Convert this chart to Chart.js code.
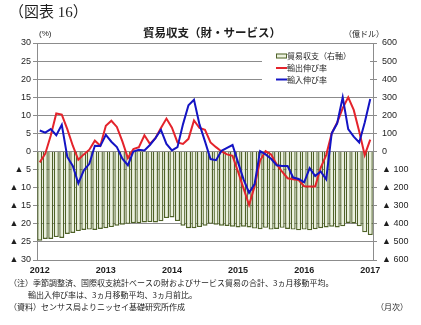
<!DOCTYPE html>
<html>
<head>
<meta charset="utf-8">
<script src="https://cdn.jsdelivr.net/npm/chart.js@4"></script>
<style>
  html, body { margin: 0; padding: 0; background: #fff; }
  canvas { display: block; }
</style>
</head>
<body>
<canvas id="c" width="421" height="325"></canvas>
<script>
// Monthly categories, Jan 2012 – Jan 2017
const categories = [
  '2012/1','2012/2','2012/3','2012/4','2012/5','2012/6','2012/7','2012/8','2012/9','2012/10','2012/11','2012/12',
  '2013/1','2013/2','2013/3','2013/4','2013/5','2013/6','2013/7','2013/8','2013/9','2013/10','2013/11','2013/12',
  '2014/1','2014/2','2014/3','2014/4','2014/5','2014/6','2014/7','2014/8','2014/9','2014/10','2014/11','2014/12',
  '2015/1','2015/2','2015/3','2015/4','2015/5','2015/6','2015/7','2015/8','2015/9','2015/10','2015/11','2015/12',
  '2016/1','2016/2','2016/3','2016/4','2016/5','2016/6','2016/7','2016/8','2016/9','2016/10','2016/11','2016/12',
  '2017/1'
];

// Trade balance, goods & services (100 million USD, right axis)
const tradeBalance = [
  -493,-484,-484,-473,-478,-456,-450,-440,-434,-432,
  -434,-428,-424,-418,-410,-405,-400,-396,-396,-392,
  -390,-392,-386,-368,-365,-385,-410,-424,-424,-418,
  -410,-400,-405,-410,-412,-416,-420,-416,-420,-426,
  -430,-422,-432,-428,-422,-428,-432,-436,-432,-436,
  -430,-424,-420,-416,-420,-414,-395,-398,-414,-447,
  -462
];

// Export growth rate (%, left axis)
const exportGrowth = [
  -3.0,-0.6,4.4,10.5,10.2,6.2,1.6,-2.3,-0.8,0.5,
  3.0,1.6,7.1,8.5,6.8,2.8,-1.8,0.7,1.2,4.5,
  2.1,3.7,6.5,9.1,6.6,2.5,2.1,3.5,8.6,6.5,
  6.0,2.5,1.2,0.0,-0.8,-1.2,-5.6,-10.2,-14.8,-9.7,
  -2.5,0.1,-0.8,-3.5,-5.6,-7.4,-7.7,-7.9,-9.6,-9.7,
  -9.7,-4.5,-1.0,5.0,8.0,12.0,15.0,11.5,5.5,-1.0,
  3.3
];

// Import growth rate (%, left axis)
const importGrowth = [
  5.8,5.2,6.2,4.5,7.4,-1.5,-4.0,-8.8,-5.2,-3.4,
  1.6,1.5,4.6,2.7,1.2,-2.0,-3.8,0.0,0.5,0.3,
  1.8,3.7,6.0,2.1,0.3,1.2,7.5,12.8,14.3,7.5,
  2.8,-2.1,-2.4,0.2,1.0,1.8,-3.0,-7.7,-11.4,-9.0,
  0.1,-0.8,-2.0,-3.8,-4.0,-4.0,-7.2,-7.6,-8.5,-4.6,
  -6.8,-5.5,-7.7,5.0,7.8,15.0,6.2,4.1,2.5,8.0,
  14.5
];

const seriesNames = ['貿易収支（右軸）', '輸出伸び率', '輸入伸び率'];
const figureLabel = '（図表 16）';
const chartTitle = '貿易収支（財・サービス）';
const leftUnit = '(%)';
const rightUnit = '（億ドル）';
const notes = [
  '（注）季節調整済、国際収支統計ベースの財およびサービス貿易の合計、3ヵ月移動平均。',
  '輸出入伸び率は、3ヵ月移動平均、3ヵ月前比。',
  '（資料）センサス局よりニッセイ基礎研究所作成'
];
const freqLabel = '（月次）';

const JP = "'Noto Sans CJK JP', sans-serif";
const NUM = "'Liberation Sans', 'Noto Sans CJK JP', sans-serif";
const GRID = '#8c8c8c';
const INK = '#1e1e1e';

Chart.defaults.font.family = NUM;
Chart.defaults.font.size = 9;
Chart.defaults.color = INK;

const tri = v => (v < 0 ? '▲ ' + (-v) : String(v));

// Titles, units, legend and notes drawn around the plot
const decor = {
  id: 'decor',
  afterDraw(chart) {
    const ctx = chart.ctx;
    ctx.save();
    ctx.fillStyle = INK;
    ctx.textBaseline = 'middle';

    ctx.textAlign = 'left';
    ctx.font = "15px 'Liberation Serif', 'Noto Sans CJK JP', serif";
    ctx.fillText(figureLabel, 9, 13);

    ctx.textAlign = 'center';
    ctx.font = "bold 11.5px " + JP;
    ctx.fillText(chartTitle, 212, 33);

    ctx.font = "8px " + NUM;
    ctx.textAlign = 'left';
    ctx.fillText(leftUnit, 39, 34);
    ctx.font = "8px " + JP;
    ctx.textAlign = 'right';
    ctx.fillText(rightUnit, 384, 34);

    // legend
    ctx.fillStyle = '#fff';
    ctx.fillRect(262, 46, 108, 42);
    const ds = chart.data.datasets;
    const rows = [56, 68, 79.5];
    ctx.font = "8px " + JP;
    ctx.textAlign = 'left';
    ds.forEach((d, i) => {
      const y = rows[i];
      if (d.type === 'bar') {
        ctx.fillStyle = d.backgroundColor;
        ctx.fillRect(276, y - 2.5, 11, 5);
        ctx.strokeStyle = d.borderColor;
        ctx.lineWidth = 1;
        ctx.strokeRect(276.5, y - 2, 10, 4);
      } else {
        ctx.strokeStyle = d.borderColor;
        ctx.lineWidth = 2;
        ctx.beginPath();
        ctx.moveTo(276, y);
        ctx.lineTo(287, y);
        ctx.stroke();
      }
      ctx.fillStyle = INK;
      ctx.fillText(d.label, 287, y);
    });

    // notes
    ctx.font = "8px " + JP;
    ctx.fillText(notes[0], 9, 283);
    ctx.fillText(notes[1], 28, 295);
    ctx.fillText(notes[2], 9, 307);
    ctx.textAlign = 'right';
    ctx.fillText(freqLabel, 408, 307);
    ctx.restore();
  }
};

new Chart(document.getElementById('c'), {
  type: 'bar',
  data: {
    labels: categories,
    datasets: [
      {
        type: 'bar',
        label: seriesNames[0],
        data: tradeBalance,
        yAxisID: 'y1',
        backgroundColor: '#ebf1de',
        borderColor: '#4f6228',
        borderWidth: 1.4,
        barPercentage: 0.92,
        categoryPercentage: 1.0,
        order: 3
      },
      {
        type: 'line',
        label: seriesNames[1],
        data: exportGrowth,
        yAxisID: 'y',
        borderColor: '#e4232b',
        borderWidth: 2,
        pointRadius: 0,
        tension: 0,
        order: 2
      },
      {
        type: 'line',
        label: seriesNames[2],
        data: importGrowth,
        yAxisID: 'y',
        borderColor: '#1414c4',
        borderWidth: 2,
        pointRadius: 0,
        tension: 0,
        order: 1
      }
    ]
  },
  options: {
    responsive: false,
    animation: false,
    devicePixelRatio: 1,
    layout: { padding: { top: 43, left: 0, right: 0, bottom: 0 } },
    plugins: {
      legend: { display: false },
      tooltip: { enabled: false },
      title: { display: false }
    },
    scales: {
      x: {
        offset: true,
        grid: { display: false, drawTicks: false },
        border: { display: false },
        ticks: {
          autoSkip: false,
          maxRotation: 0,
          padding: 5,
          font: { weight: 'bold', size: 9 },
          callback(v) {
            const l = this.getLabelForValue(v);
            return l.endsWith('/1') ? l.slice(0, 4) : '';
          }
        },
        afterFit(s) { s.height = 65; }
      },
      y: {
        position: 'left',
        min: -30,
        max: 30,
        ticks: { stepSize: 5, padding: 2, callback: v => tri(v) },
        grid: { color: GRID, lineWidth: 1, tickLength: 4 },
        border: { color: GRID },
        afterFit(s) { s.width = 37; }
      },
      y1: {
        position: 'right',
        min: -600,
        max: 600,
        ticks: { stepSize: 100, padding: 5, callback: v => tri(v) },
        grid: { drawOnChartArea: false, color: GRID, tickLength: 4 },
        border: { color: GRID },
        afterFit(s) { s.width = 48; }
      }
    }
  },
  plugins: [decor]
});
</script>
</body>
</html>
